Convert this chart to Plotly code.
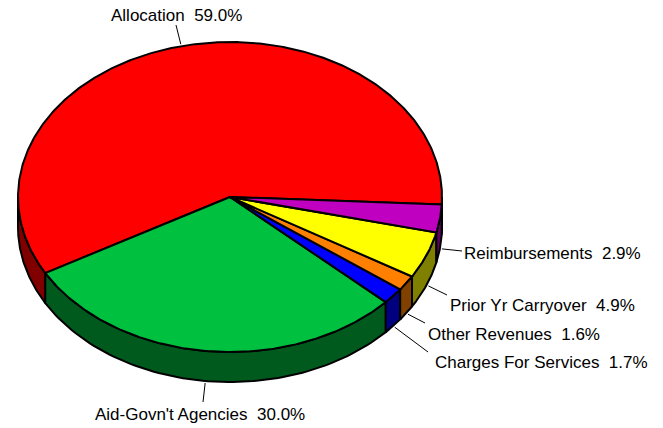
import numpy as np
import plotly.graph_objects as go

# slice data, in counter-clockwise order starting at the right edge
labels = ["Allocation", "Aid-Govn't Agencies", "Charges For Services",
          "Other Revenues", "Prior Yr Carryover", "Reimbursements"]
values = [59.0, 30.0, 1.7, 1.6, 4.9, 2.9]

top_colors = ["#FF0000", "#00C040", "#0000FF", "#FF8000", "#FFFF00", "#C000C0"]
side_colors = ["#800000", "#005A1E", "#000080", "#804000", "#808000", "#600060"]

# pie geometry (pixel space)
CX, CY, RX, RY, DEPTH = 230, 197, 212, 155, 30
START = -2.8  # degrees, where the first slice begins

# label text position (x, y, xanchor) and leader end point
label_pos = [
    (176, 15, "center", 176, 25),
    (200, 414, "center", 203, 402),
    (433, 362, "left", 428, 352),
    (426, 334, "left", 425, 323),
    (448, 305, "left", 447, 295),
    (462, 253, "left", 462, 251),
]


def ell(t_deg, down=0.0, grow=0.0):
    t = np.radians(t_deg)
    return CX + (RX + grow) * np.cos(t), CY - (RY + grow) * np.sin(t) + down


fig = go.Figure()

total = sum(values)
bounds = []
a = START
for v in values:
    b = a + 360.0 * v / total
    bounds.append((a, b))
    a = b

# side walls for the front half of the pie
for (a0, a1), col in zip(bounds, side_colors):
    for lo, hi in [(-180, 0), (180, 360), (540, 720)]:
        s, e = max(a0, lo), min(a1, hi)
        if e <= s:
            continue
        t = np.linspace(s, e, 80)
        xt, yt = ell(t)
        xb, yb = ell(t[::-1], down=DEPTH)
        fig.add_trace(go.Scatter(
            x=np.r_[xt, xb, xt[:1]], y=np.r_[yt, yb, yt[:1]],
            mode="lines", fill="toself", fillcolor=col,
            line=dict(color="black", width=2), hoverinfo="skip"))

# top faces
for (a0, a1), col in zip(bounds, top_colors):
    t = np.linspace(a0, a1, max(int((a1 - a0) * 2), 8))
    xs, ys = ell(t)
    fig.add_trace(go.Scatter(
        x=np.r_[CX, xs, CX], y=np.r_[CY, ys, CY],
        mode="lines", fill="toself", fillcolor=col,
        line=dict(color="black", width=2), hoverinfo="skip"))

# labels with leader lines
for (a0, a1), name, v, (tx, ty, xa, lx, ly) in zip(bounds, labels, values, label_pos):
    mid = (a0 + a1) / 2
    front = np.sin(np.radians(mid)) < 0
    sx, sy = ell(mid, down=DEPTH if front else 0, grow=2)
    fig.add_trace(go.Scatter(x=[sx, lx], y=[sy, ly], mode="lines",
                             line=dict(color="black", width=1), hoverinfo="skip"))
    fig.add_annotation(x=tx, y=ty, text=f"{name}\u00a0 {v:.1f}%", showarrow=False,
                       xanchor=xa, yanchor="middle",
                       font=dict(family="Liberation Sans, Arial", size=17, color="#000"))

fig.update_layout(
    width=663, height=428, margin=dict(l=0, r=0, t=0, b=0),
    paper_bgcolor="white", plot_bgcolor="white", showlegend=False,
    xaxis=dict(range=[0, 663], visible=False, fixedrange=True),
    yaxis=dict(range=[428, 0], visible=False, fixedrange=True),
)
fig.write_html("out.html", config={"displayModeBar": False},
               post_script="document.body.style.margin='0';document.body.style.overflow='hidden';")
